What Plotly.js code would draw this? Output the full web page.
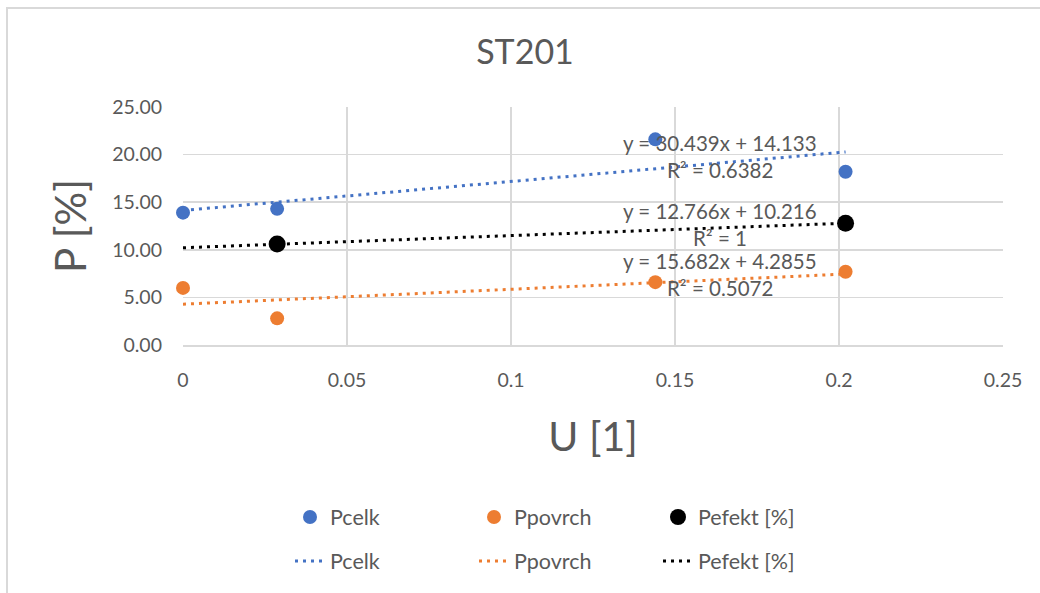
<!DOCTYPE html>
<html>
<head>
<meta charset="utf-8">
<script src="https://cdn.plot.ly/plotly-3.0.1.min.js"></script>
<style>
html,body{margin:0;padding:0;background:#fff;}
#wrap{position:relative;width:1040px;height:593px;overflow:hidden;}
#chart{width:1040px;height:593px;}
#frame{position:absolute;left:6px;top:7px;width:1100px;height:700px;border-left:2px solid #d9d9d9;border-top:2px solid #d9d9d9;pointer-events:none;}
</style>
</head>
<body>
<div id="wrap"><div id="chart"></div><div id="frame"></div></div>
<script>
// Data
const seriesNames = ["Pcelk", "Ppovrch", "Pefekt [%]"];
const pcelkU = [0, 0.0287, 0.1440, 0.2020];
const pcelkP = [13.9, 14.3, 21.6, 18.2];
const ppovrchU = [0, 0.0287, 0.1440, 0.2020];
const ppovrchP = [6.0, 2.8, 6.6, 7.7];
const pefektU = [0.0287, 0.2020];
const pefektP = [10.6, 12.8];
// Trendline coefficients as printed on the chart
const trendSlope = [30.439, 15.682, 12.766];
const trendIntercept = [14.133, 4.2855, 10.216];
const trendEq = ["y = 30.439x + 14.133", "y = 15.682x + 4.2855", "y = 12.766x + 10.216"];
const trendR2 = ["R² = 0.6382", "R² = 0.5072", "R² = 1"];
const xTicks = [0, 0.05, 0.1, 0.15, 0.2, 0.25];
const xTickText = ["0", "0.05", "0.1", "0.15", "0.2", "0.25"];

const colors = ["#4472c4", "#ed7d31", "#000000"];
const FONT = "Lato, 'Open Sans', sans-serif";
const GREY = "#595959";
const xs = [pcelkU, ppovrchU, pefektU];
const ys = [pcelkP, ppovrchP, pefektP];
const markerTraces = [], lineTraces = [];
for (let i = 0; i < 3; i++) {
  markerTraces.push({
    x: xs[i], y: ys[i], type: "scatter", mode: "markers", name: seriesNames[i],
    marker: {color: colors[i], size: i === 2 ? 17 : 14},
    legend: "legend", cliponaxis: false
  });
  const x0 = 0, x1 = Math.max(...xs[i]);
  lineTraces.push({
    x: [x0, x1], y: [trendIntercept[i] + trendSlope[i]*x0, trendIntercept[i] + trendSlope[i]*x1],
    type: "scatter", mode: "lines", name: seriesNames[i],
    line: {color: colors[i], width: 3, dash: "3px,5px"},
    legend: "legend2"
  });
}

const labelX = 0.1637;
const eqY = [21.2, 8.8, 14.1];
const r2Y = [18.4, 6.0, 11.2];
const annotations = [];
for (let i = 0; i < 3; i++) {
  annotations.push({x: labelX, y: eqY[i], xref: "x", yref: "y", text: trendEq[i], showarrow: false,
    font: {family: FONT, size: 20.5, color: GREY}});
  annotations.push({x: labelX, y: r2Y[i], xref: "x", yref: "y", text: trendR2[i], showarrow: false,
    font: {family: FONT, size: 20.5, color: GREY}});
}

// plot area: x 183..1003 px, y 107..345 px
const PL = 183, PW = 820, PT = 107, PH = 238;
const legendFont = {family: FONT, size: 21.5, color: GREY};
const layout = {
  width: 1040, height: 593,
  margin: {l: PL, r: 1040 - PL - PW, t: PT, b: 593 - PT - PH},
  paper_bgcolor: "#ffffff", plot_bgcolor: "#ffffff",
  font: {family: FONT, color: GREY, size: 18},
  title: {text: "ST201", x: 525 / 1040, xref: "container", xanchor: "center",
    y: 1 - 52 / 593, yref: "container", yanchor: "middle",
    font: {family: FONT, size: 34, color: GREY}},
  xaxis: {
    range: [0, 0.25], tickvals: xTicks, ticktext: xTickText,
    showgrid: true, gridcolor: "#d9d9d9", gridwidth: 1.5,
    zeroline: false, showline: true, linecolor: "#d9d9d9", linewidth: 1.5,
    ticks: "", ticklabelstandoff: 17, tickfont: {family: FONT, size: 19.5, color: GREY},
    title: {text: "U [1]", font: {family: FONT, size: 41, color: GREY}, standoff: 32}
  },
  yaxis: {
    range: [0, 25], dtick: 5, tickformat: ".2f",
    showgrid: true, gridcolor: "#d9d9d9", gridwidth: 1.5,
    zeroline: false, showline: false, ticks: "", ticklabelstandoff: 20,
    tickfont: {family: FONT, size: 19.5, color: GREY},
    title: {text: "P [%]", font: {family: FONT, size: 42, color: GREY}, standoff: 12}
  },
  showlegend: true,
  legend: {orientation: "h", xref: "paper", x: (290 - PL) / PW, xanchor: "left",
    yref: "paper", y: -(517 - (PT + PH)) / PH, yanchor: "middle",
    entrywidth: 139, font: legendFont, bgcolor: "rgba(0,0,0,0)"},
  legend2: {orientation: "h", xref: "paper", x: (290 - PL) / PW, xanchor: "left",
    yref: "paper", y: -(561 - (PT + PH)) / PH, yanchor: "middle",
    entrywidth: 139, font: legendFont, bgcolor: "rgba(0,0,0,0)"},
  annotations: annotations
};

Plotly.newPlot("chart", lineTraces.concat(markerTraces), layout, {displayModeBar: false, staticPlot: true});
</script>
</body>
</html>
